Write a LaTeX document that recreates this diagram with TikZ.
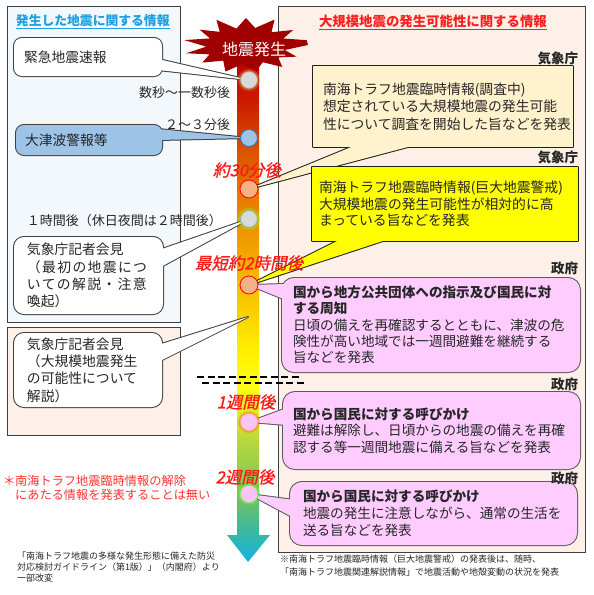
\documentclass[tikz,border=0pt]{standalone}
\usepackage{fontspec}
\setmainfont{Noto Sans CJK JP}
\newfontfamily\italjp[FakeSlant=0.22,FakeBold=1.2]{Noto Sans CJK JP}
\usetikzlibrary{calc}
\newcommand\myfs[2]{\fontsize{#1}{#2}\selectfont}
\definecolor{txt}{HTML}{262626}
\definecolor{leftbg}{HTML}{F3F8FD}
\definecolor{peach}{HTML}{FDF0E9}
\definecolor{panelEdge}{HTML}{3F3F3F}
\definecolor{titleblue}{HTML}{1E9FE3}
\definecolor{titlered}{HTML}{FF1F1F}
\definecolor{burst}{HTML}{A00000}
\definecolor{gray1}{HTML}{D9D9D9}
\definecolor{blue1}{HTML}{9DC3E6}
\definecolor{blueedge}{HTML}{2E75B6}
\definecolor{salmon}{HTML}{F4B183}
\definecolor{pinkbox}{HTML}{FFCCFF}
\definecolor{pinkdot}{HTML}{F9C4F9}
\definecolor{lightyellow}{HTML}{FFF2CC}
\definecolor{yellowbox}{HTML}{FFFF00}
\definecolor{labred}{HTML}{FF1A1A}
\definecolor{notered}{HTML}{FF3333}
\definecolor{Ledge}{HTML}{404040}
\definecolor{Redge}{HTML}{202020}
\definecolor{Pedge}{HTML}{5A5A5A}
\definecolor{s1}{HTML}{B40000}
\definecolor{s2}{HTML}{CC1A00}
\definecolor{s3}{HTML}{DE5C00}
\definecolor{s4}{HTML}{EE9600}
\definecolor{s5}{HTML}{F8C800}
\definecolor{s6}{HTML}{FFEE00}
\definecolor{s7}{HTML}{FFFF10}
\definecolor{s8}{HTML}{B8D83C}
\definecolor{s9}{HTML}{7CC45A}
\definecolor{s10}{HTML}{3CB89C}
\definecolor{s11}{HTML}{12B4E6}
\pgfdeclareverticalshading{arrowshade}{100bp}{color(0bp)=(s11); color(25bp)=(s11); color(28.2bp)=(s10); color(32.1bp)=(s9); color(37bp)=(s8); color(42.5bp)=(s7); color(45.9bp)=(s6); color(50.8bp)=(s5); color(57.7bp)=(s4); color(64.6bp)=(s3); color(70.6bp)=(s2); color(75bp)=(s1); color(100bp)=(s1)}
\pgfdeclarelayer{bg}
\pgfsetlayers{bg,main}
% fill colour, edge colour, corner style, box node, base 1, tip, base 2
\newcommand\mycallout[7]{%
  \draw[line width=2pt, #2, line join=round, #3] (#4.north west) rectangle (#4.south east);
  \draw[line width=2pt, #2, line join=round] #5 -- #6 -- #7 -- cycle;
  \fill[#1, #3] (#4.north west) rectangle (#4.south east);
  \fill[#1] #5 -- #6 -- #7 -- cycle;
}
\begin{document}
\begin{tikzpicture}[x=1pt,y=-1pt,
  every node/.style={inner sep=0pt, outer sep=0pt},
  tb/.style={anchor=north west, align=left, inner xsep=10pt, inner ysep=0pt, text=txt, font=\myfs{13.6}{17}},
  dot/.style={circle, minimum size=17pt, inner sep=0pt, line width=0.8pt},
  halo/.style={circle, minimum size=22pt, inner sep=0pt, opacity=0.45},
  tlabel/.style={text=labred, font=\italjp\myfs{16.5}{16}},
  org/.style={anchor=east, font=\bfseries\myfs{13.5}{14}, text=txt},
  glabel/.style={font=\myfs{13}{13}, text=txt}]
\useasboundingbox (0,0) rectangle (594,595);

% titles
\node[anchor=west, text=titleblue, font=\bfseries\myfs{12.8}{14}] (tL) at (16,22) {\underline{発生した地震に関する情報}};
\node[anchor=west, text=titlered, font=\bfseries\myfs{13.4}{14}] (tR) at (319,22) {\underline{大規模地震の発生可能性に関する情報}};

% left boxes
\node[tb, text width=128pt, minimum height=38pt, font=\myfs{13.8}{17}] (L1) at (14,38) {緊急地震速報};
\node[tb, text width=128pt, inner xsep=9pt, minimum height=30pt, font=\myfs{13.8}{17}] (L2) at (16,125) {大津波警報等};
\node[tb, text width=123pt, inner xsep=13pt, minimum height=77pt, font=\myfs{13.8}{17.2}] (L3) at (14,237) {気象庁記者会見\\{\addfontfeature{LetterSpace=10}（最初の地震につ}\\{\addfontfeature{LetterSpace=10}いての解説・注意}\\喚起）};
\node[tb, text width=122pt, inner xsep=13pt, minimum height=74pt, font=\myfs{13.8}{17.3}] (L4) at (14,333) {気象庁記者会見\\（大規模地震発生\\の可能性について\\解説）};

% right boxes
\node[tb, text width=240pt, minimum height=81pt, font=\myfs{13.8}{17.5}] (R1) at (313,66) {南海トラフ地震臨時情報(調査中)\\想定されている大規模地震の発生可能\\性について調査を開始した旨などを発表};
\node[tb, text width=252pt, inner xsep=7pt, minimum height=74pt, font=\myfs{13.8}{16.6}] (R2) at (312,167) {南海トラフ地震臨時情報(巨大地震警戒)\\大規模地震の発生可能性が相対的に高\\まっている旨などを発表};
\node[tb, text width=276pt, inner xsep=11pt, minimum height=94pt, font=\myfs{13.6}{16.3}] (R3) at (282,278) {\textbf{国から地方公共団体への指示及び国民に対}\\\textbf{する周知}\\日頃の備えを再確認するとともに、津波の危\\険性が高い地域では一週間避難を継続する\\旨などを発表};
\node[tb, text width=277pt, inner xsep=10pt, minimum height=77pt, font=\myfs{13.6}{16.5}] (R4) at (283,392) {\textbf{国から国民に対する呼びかけ}\\避難は解除し、日頃からの地震の備えを再確\\認する等一週間地震に備える旨などを発表};
\node[tb, text width=261pt, inner xsep=13pt, minimum height=63pt, font=\myfs{13.6}{17}] (R5) at (290,482) {\textbf{国から国民に対する呼びかけ}\\地震の発生に注意しながら、通常の生活を\\送る旨などを発表};

% issuer labels
\node[org] (o1) at (578,58) {気象庁};
\node[org] (o2) at (578,157) {気象庁};
\node[org] (o3) at (578,268) {政府};
\node[org] (o4) at (578,384) {政府};
\node[org] (o5) at (578,478) {政府};

% time labels (left)
\node[glabel, anchor=east] (t1) at (230,93) {数秒～一数秒後};
\node[glabel, anchor=east] (t2) at (230,125) {２～３分後};
\node[glabel, anchor=west] (t3) at (27,221) {１時間後（休日夜間は２時間後）};

% red note
\node[anchor=north west, text=notered, font=\myfs{12.2}{14.5}, align=left] (nt) at (3,475) {＊南海トラフ地震臨時情報の解除\\　にあたる情報を発表することは無い};

% bottom notes
\node[anchor=north west, text=txt, font=\myfs{9}{11}, align=left] (src) at (17,552) {「南海トラフ地震の多様な発生形態に備えた防災\\対応検討ガイドライン（第1版）」（内閣府）より\\一部改変};
\node[anchor=north west, text=txt, font=\myfs{9}{12.5}, align=left] (fn) at (280,555) {※南海トラフ地震臨時情報（巨大地震警戒）の発表後は、随時、\\「南海トラフ地震関連解説情報」で地震活動や地殻変動の状況を発表};

% dots on the time arrow
\node[halo, fill=orange] at (249,80) {};
\node[dot, fill=gray1, draw=gray!70] (c1) at (249,80) {};
\node[dot, fill=blue1, draw=blueedge] (c2) at (249,138) {};
\node[dot, minimum size=18pt, fill=salmon, draw=red] (c3) at (249,189) {};
\node[halo, fill=green!50!yellow] at (249,219) {};
\node[dot, fill=gray1, draw=gray!70] (c4) at (249,219) {};
\node[dot, minimum size=18pt, fill=salmon, draw=red] (c5) at (249,285) {};
\node[halo, fill=orange] at (249,422) {};
\node[dot, minimum size=18pt, fill=pinkdot, draw=orange!60!pink] (c6) at (249,422) {};
\node[halo, fill=green!60!yellow] at (249,494) {};
\node[dot, minimum size=18pt, fill=pinkdot, draw=green!50!pink] (c7) at (249,494) {};
\coordinate (p4) at (248,317);

% red time labels
\node[tlabel] (k1) at (247,170) {約30分後};
\node[tlabel] (k2) at (249,263) {最短約2時間後};
\node[tlabel] (k3) at (246,402) {1週間後};
\node[tlabel] (k4) at (245,477) {2週間後};

% dashed separator
\draw[line width=2.5pt, dash pattern=on 7pt off 3.5pt] (197,377) -- (302,377);
\draw[line width=2.5pt, dash pattern=on 7pt off 3.5pt] (202,383) -- (304,383);

% earthquake label
\node[text=white, font=\myfs{16}{16}] (eq) at (254,49) {地震発生};

\begin{pgfonlayer}{bg}
  \draw[panelEdge, line width=0.9pt, fill=leftbg] (7,6) rectangle (180,322);
  \draw[panelEdge, line width=0.9pt, fill=peach] (7,327) rectangle (180,435);
  \draw[panelEdge, line width=0.9pt, fill=peach] (278,6) rectangle (585,552);
  \shade[shading=arrowshade] (237,55) -- (259,55) -- (259,535) -- (270,535) -- (248,562) -- (227,535) -- (237,535) -- cycle;
  \fill[burst] (308,45) \foreach \a/\m in {13/0.64, 25/0.9, 38/0.66, 52/0.95, 65/0.64, 80/0.92, 95/0.65, 110/0.97, 125/0.64, 140/0.92, 153/0.66, 165/1.0, 178/0.64, 192/1.02, 205/0.64, 218/0.95, 230/0.66, 243/1.05, 256/0.64, 270/1.0, 283/0.66, 296/1.05, 310/0.64, 323/0.95, 336/0.66, 348/1.0} { -- ({246+62*\m*cos(\a)},{46+28*\m*sin(\a)}) } -- cycle;
  \mycallout{white}{Ledge}{rounded corners=8pt}{L1}{($(L1.north east)+(-4,21)$)}{(c1.center)}{($(L1.north east)+(-4,32)$)}
  \mycallout{blue1}{Ledge}{rounded corners=8pt}{L2}{($(L2.north east)+(-4,4)$)}{(c2.center)}{($(L2.north east)+(-4,15)$)}
  \mycallout{white}{Ledge}{rounded corners=10pt}{L3}{($(L3.north east)+(-4,13)$)}{(c4.center)}{($(L3.north east)+(-4,31)$)}
  \mycallout{white}{Ledge}{rounded corners=10pt}{L4}{($(L4.north east)+(-4,12)$)}{(p4)}{($(L4.north east)+(-4,29)$)}
  \mycallout{lightyellow}{Redge}{sharp corners}{R1}{($(R1.south west)+(48,-4)$)}{(c3.center)}{($(R1.south west)+(110,-4)$)}
  \mycallout{yellowbox}{Redge}{sharp corners}{R2}{($(R2.south west)+(33,-4)$)}{(c5.center)}{($(R2.south west)+(83,-4)$)}
  \mycallout{pinkbox}{Pedge}{rounded corners=12pt}{R3}{($(R3.north west)+(4,6)$)}{(c5.center)}{($(R3.north west)+(4,22)$)}
  \mycallout{pinkbox}{Pedge}{rounded corners=12pt}{R4}{($(R4.north west)+(4,16)$)}{(c6.center)}{($(R4.north west)+(4,33)$)}
  \mycallout{pinkbox}{Pedge}{rounded corners=12pt}{R5}{($(R5.north west)+(4,18)$)}{(c7.center)}{($(R5.north west)+(4,36)$)}
\end{pgfonlayer}
\end{tikzpicture}
\end{document}
